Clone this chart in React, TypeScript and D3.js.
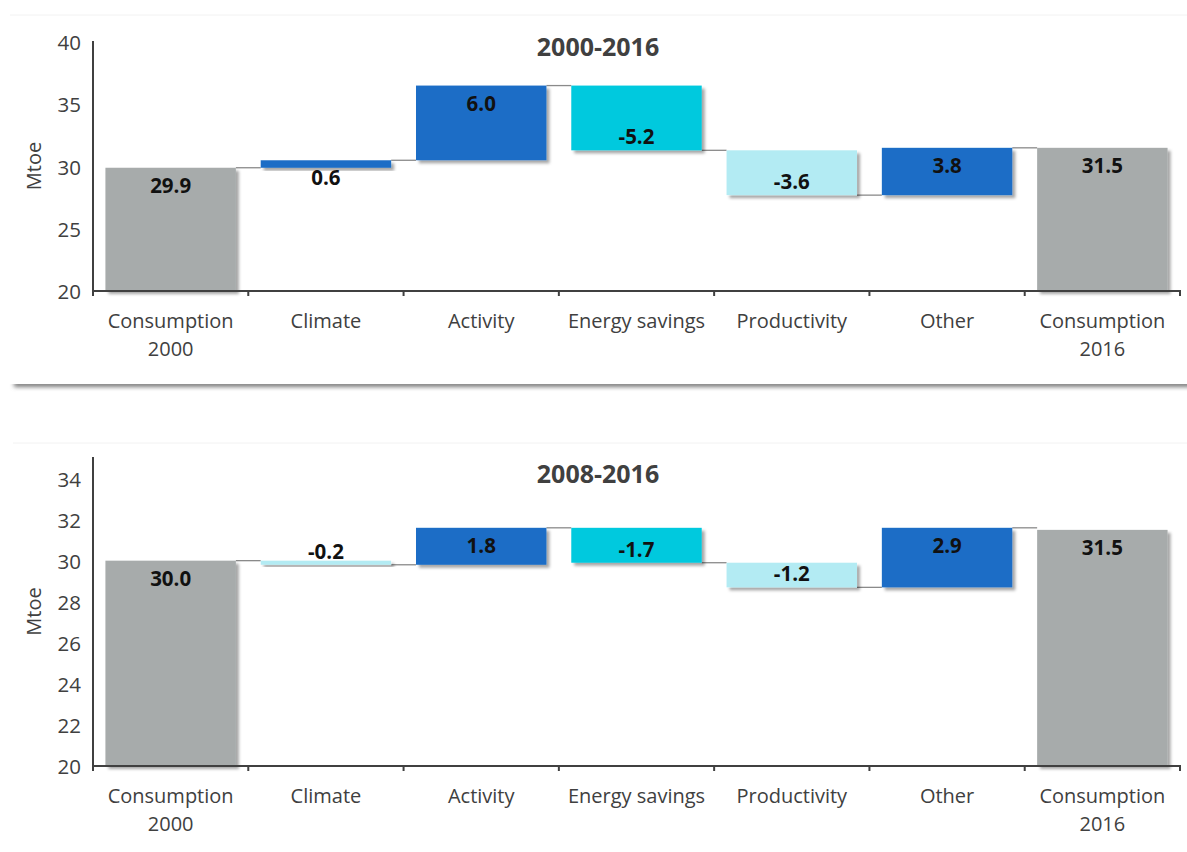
import React from "react";
import * as d3 from "d3";

const categories = [
  "Consumption\n2000",
  "Climate",
  "Activity",
  "Energy savings",
  "Productivity",
  "Other",
  "Consumption\n2016",
];

// Bar kinds: total bars stand on the axis, step bars float on the running total
const kinds = ["total", "step", "step", "step", "step", "step", "total"];

const values2000 = [29.9, 0.6, 6.0, -5.2, -3.6, 3.8, 31.5];
const values2008 = [30.0, -0.2, 1.8, -1.7, -1.2, 2.9, 31.5];

const ticks2000 = [20, 25, 30, 35, 40];
const ticks2008 = [20, 22, 24, 26, 28, 30, 32, 34];

const FONT = "'Open Sans', 'DejaVu Sans', sans-serif";
const COLORS = {
  total: "#A7ABAB",
  up: "#1A6DC6",
  down: "#B3EBF3",
  savings: "#00C9DE",
  axis: "#404040",
  text: "#404040",
  connector: "#8a8a8a",
};

type PanelProps = {
  title: string;
  values: number[];
  ticks: number[];
  domain: [number, number];
  top: number; // pixel of domain max
  bottom: number; // pixel of axis baseline
  axisTop: number;
  titleY: number;
};

function Panel({ title, values, ticks, domain, top, bottom, axisTop, titleY }: PanelProps) {
  const x = d3
    .scaleBand<string>()
    .domain(categories)
    .range([93, 1180])
    .paddingInner(0.16)
    .paddingOuter(0.08);
  const y = d3.scaleLinear().domain(domain).range([bottom, top]);

  // running totals for floating bars
  let run = 0;
  const bars = values.map((v, i) => {
    const cat = categories[i];
    let lo: number, hi: number, end: number, color: string;
    if (kinds[i] === "total") {
      lo = domain[0];
      hi = v;
      end = v;
      run = v;
      color = COLORS.total;
    } else {
      const start = run;
      end = start + v;
      lo = Math.min(start, end);
      hi = Math.max(start, end);
      run = end;
      color = cat === "Energy savings" ? COLORS.savings : v >= 0 ? COLORS.up : COLORS.down;
    }
    return { cat, v, lo, hi, end, color, total: kinds[i] === "total" };
  });

  const step = x.step();
  const x0 = x.range()[0];
  const boundaries = d3.range(categories.length + 1).map((i) => x0 + i * step);

  return (
    <g>
      <text
        x={598}
        y={titleY}
        textAnchor="middle"
        dominantBaseline="central"
        fontFamily={FONT}
        fontWeight={700}
        fontSize={25}
        fill={COLORS.text}
      >
        {title}
      </text>

      {/* connectors between consecutive bars */}
      {bars.slice(0, -1).map((b, i) => {
        const next = bars[i + 1];
        const level = b.end;
        return (
          <line
            key={"c" + i}
            x1={(x(b.cat) as number) + x.bandwidth()}
            x2={x(next.cat) as number}
            y1={y(level)}
            y2={y(level)}
            stroke={COLORS.connector}
            strokeWidth={1.3}
          />
        );
      })}

      {bars.map((b, i) => (
        <rect
          key={"b" + i}
          x={x(b.cat) as number}
          y={y(b.hi)}
          width={x.bandwidth()}
          height={Math.max(1, y(b.lo) - y(b.hi))}
          fill={b.color}
          filter="url(#barShadow)"
        />
      ))}

      {bars.map((b, i) => {
        const cx = (x(b.cat) as number) + x.bandwidth() / 2;
        const ly = b.total || b.v >= 0 ? y(b.hi) + 17 : y(b.lo) - 14;
        return (
          <text
            key={"v" + i}
            x={cx}
            y={ly}
            textAnchor="middle"
            dominantBaseline="central"
            fontFamily={FONT}
            fontWeight={700}
            fontSize={20.5}
            fill="#111"
          >
            {b.v.toFixed(1)}
          </text>
        );
      })}

      {/* y axis */}
      <line x1={x0} x2={x0} y1={axisTop} y2={bottom + 1} stroke={COLORS.axis} strokeWidth={2} />
      {ticks.map((t) => (
        <text
          key={"t" + t}
          x={x0 - 12}
          y={y(t)}
          textAnchor="end"
          dominantBaseline="central"
          fontFamily={FONT}
          fontSize={20.5}
          fill={COLORS.text}
        >
          {t}
        </text>
      ))}
      <text
        transform={`translate(33,${(axisTop + bottom) / 2}) rotate(-90)`}
        textAnchor="middle"
        dominantBaseline="central"
        fontFamily={FONT}
        fontSize={20}
        fill={COLORS.text}
      >
        Mtoe
      </text>

      {/* x axis */}
      <line x1={x0 - 1} x2={1181} y1={bottom} y2={bottom} stroke={COLORS.axis} strokeWidth={2} />
      {boundaries.map((bx, i) => (
        <line key={"xt" + i} x1={bx} x2={bx} y1={bottom} y2={bottom + 5} stroke={COLORS.axis} strokeWidth={2} />
      ))}
      {categories.map((c) => {
        const cx = (x(c) as number) + x.bandwidth() / 2;
        return c.split("\n").map((line, j) => (
          <text
            key={c + j}
            x={cx}
            y={bottom + 29 + j * 28}
            textAnchor="middle"
            dominantBaseline="central"
            fontFamily={FONT}
            fontSize={20}
            fill={COLORS.text}
          >
            {line}
          </text>
        ));
      })}
    </g>
  );
}

export default function App() {
  return (
    <svg
      width={1187}
      height={852}
      style={{ position: "absolute", left: 0, top: 0, background: "#fff" }}
    >
      <defs>
        <filter id="barShadow" x="-10%" y="-10%" width="130%" height="150%">
          <feDropShadow dx={3} dy={3} stdDeviation={1.6} floodColor="#000" floodOpacity={0.35} />
        </filter>
        <filter id="soft" x="-5%" y="-200%" width="110%" height="500%">
          <feGaussianBlur stdDeviation={2.2} />
        </filter>
      </defs>

      {/* panel card: soft shadow along its lower edge */}
      <rect x={14} y={381} width={1190} height={6} fill="#7a7a7a" filter="url(#soft)" />
      <rect x={8} y={15} width={1200} height={369} fill="#fff" />
      <line x1={10} x2={1187} y1={15} y2={15} stroke="#f2f2f2" />
      <line x1={13} x2={1187} y1={443} y2={443} stroke="#f2f2f2" />

      <Panel
        title="2000-2016"
        values={values2000}
        ticks={ticks2000}
        domain={[20, 40]}
        top={42}
        bottom={291}
        axisTop={41}
        titleY={46}
      />
      <Panel
        title="2008-2016"
        values={values2008}
        ticks={ticks2008}
        domain={[20, 35]}
        top={458}
        bottom={766}
        axisTop={457}
        titleY={473}
      />
    </svg>
  );
}
